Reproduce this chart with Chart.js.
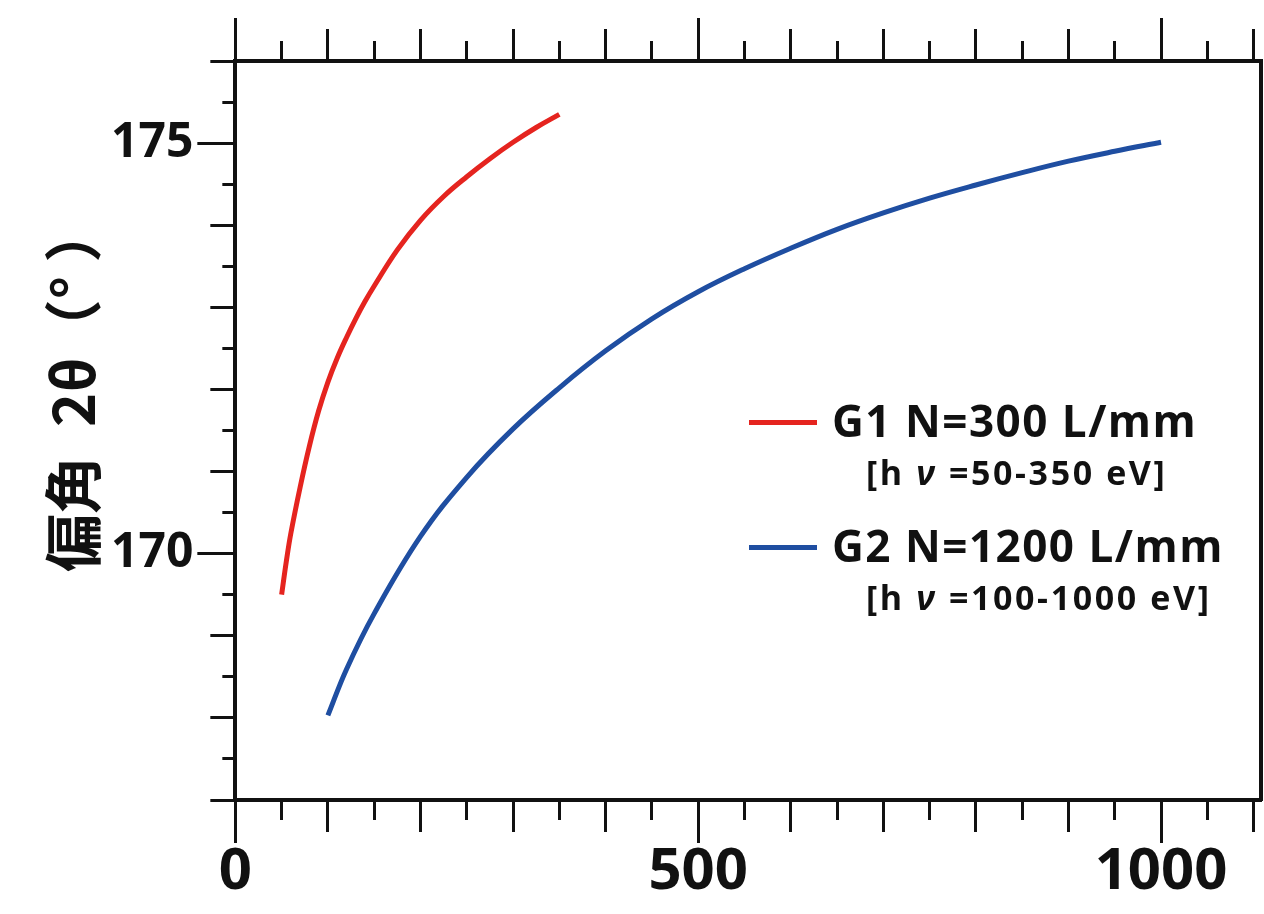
<!DOCTYPE html>
<html>
<head>
<meta charset="utf-8">
<script src="https://cdn.jsdelivr.net/npm/chart.js@4.4.0/dist/chart.umd.min.js"></script>
<style>
html,body{margin:0;padding:0;background:#fff;}
#wrap{position:relative;width:1264px;height:914px;}
.leg{position:absolute;font-family:'Open Sans',sans-serif;font-weight:700;line-height:1;white-space:pre;color:#111;}
.swatch{position:absolute;height:5px;width:68px;left:749px;}
</style>
</head>
<body>
<div id="wrap">
  <canvas id="chart"></canvas>
  <div id="legend"></div>
</div>
<script>
// data
const g1Energy = [50, 55, 60, 70, 80, 90, 100, 110, 120, 130, 140, 150, 175, 200, 225, 250, 275, 300, 325, 350];
const g1Angle  = [169.50, 169.90, 170.25, 170.81, 171.31, 171.74, 172.09, 172.38, 172.63, 172.86, 173.07, 173.26, 173.70, 174.06, 174.35, 174.59, 174.81, 175.01, 175.19, 175.35];
const g2Energy = [100, 120, 150, 200, 250, 300, 350, 400, 450, 500, 550, 600, 650, 700, 750, 800, 850, 900, 950, 1000];
const g2Angle  = [168.03, 168.59, 169.27, 170.21, 170.93, 171.52, 172.02, 172.47, 172.86, 173.19, 173.47, 173.72, 173.95, 174.15, 174.33, 174.49, 174.64, 174.78, 174.90, 175.01];
const seriesNames  = ['G1 N=300 L/mm', 'G2 N=1200 L/mm'];
const seriesRanges = ['[h ν =50-350 eV]', '[h ν =100-1000 eV]'];
const seriesColors = ['#e5241f', '#1f4ea1'];
const xLabelTicks = [0, 500, 1000];
const yLabelTicks = [170, 175];
const yTitle = '\u3000  偏角\u20022θ（° ）';

const black = '#111';
const near = (a, b) => Math.abs(a - b) < 1e-6;

// tick mark lengths: major / medium / short
function xLen(v){
  if(xLabelTicks.some(m => near(m, v))) return 41;
  return near(v % 100, 0) ? 30 : 18;
}
function yLen(v){
  if(yLabelTicks.some(m => near(m, v))) return 36;
  return near(v % 1, 0) ? 23 : 11;
}
const tv = c => c.tick ? c.tick.value : 0;

Chart.defaults.font.family = "'Open Sans', sans-serif";
Chart.defaults.color = black;

const ctx = document.getElementById('chart').getContext('2d');
new Chart(ctx, {
  type: 'line',
  data: {
    datasets: [
      {
        label: seriesNames[0],
        data: g1Energy.map((x, i) => ({x: x, y: g1Angle[i]})),
        borderColor: seriesColors[0],
        borderWidth: 5,
        pointRadius: 0,
        tension: 0.4
      },
      {
        label: seriesNames[1],
        data: g2Energy.map((x, i) => ({x: x, y: g2Angle[i]})),
        borderColor: seriesColors[1],
        borderWidth: 5,
        pointRadius: 0,
        tension: 0.4
      }
    ]
  },
  options: {
    responsive: true,
    maintainAspectRatio: false,
    animation: false,
    events: [],
    layout: { padding: { left: 40, right: 3, top: 18, bottom: 13 } },
    plugins: { legend: { display: false }, tooltip: { enabled: false } },
    scales: {
      x: {
        type: 'linear', position: 'bottom', min: 0, max: 1108,
        ticks: {
          stepSize: 50, includeBounds: false, autoSkip: false, maxRotation: 0, padding: 0,
          font: { size: 58, weight: 'bold', lineHeight: 1 },
          callback: v => xLabelTicks.some(m => near(m, v)) ? String(v) : ''
        },
        grid: {
          drawOnChartArea: false, tickLength: 43, tickWidth: 3, tickColor: black,
          tickBorderDash: c => [xLen(tv(c)), 200]
        },
        border: { color: black, width: 4 }
      },
      x2: {
        type: 'linear', position: 'top', min: 0, max: 1108,
        ticks: { display: false, stepSize: 50, includeBounds: false, autoSkip: false },
        grid: {
          drawOnChartArea: false, tickLength: 43, tickWidth: 3, tickColor: black,
          tickBorderDash: c => [0, 41 - xLen(tv(c)), xLen(tv(c)), 200]
        },
        border: { color: black, width: 4 }
      },
      y: {
        type: 'linear', position: 'left', min: 167, max: 176,
        ticks: {
          stepSize: 0.5, includeBounds: false, autoSkip: false, padding: 4,
          font: { size: 48, weight: 'bold', lineHeight: 1 },
          callback: v => yLabelTicks.some(m => near(m, v)) ? String(v) : ''
        },
        grid: {
          drawOnChartArea: false, tickLength: 38, tickWidth: 3, tickColor: black,
          tickBorderDash: c => [0, 36 - yLen(tv(c)), yLen(tv(c)), 200]
        },
        border: { color: black, width: 4 },
        title: {
          display: true, text: yTitle, color: black,
          font: { family: "'Noto Sans CJK JP', sans-serif", size: 58, weight: 'bold', lineHeight: 1 },
          padding: { top: 4, bottom: 5 }
        }
      },
      y2: {
        type: 'linear', position: 'right', min: 167, max: 176,
        ticks: { display: false },
        grid: { drawOnChartArea: false, drawTicks: false },
        border: { color: black, width: 4 }
      }
    }
  }
});

// legend drawn as html text over the plot
const legend = document.getElementById('legend');
const rowTop = [398, 523];
seriesNames.forEach((name, i) => {
  const sw = document.createElement('div');
  sw.className = 'swatch';
  sw.style.top = (rowTop[i] + 22) + 'px';
  sw.style.background = seriesColors[i];
  legend.appendChild(sw);

  const t = document.createElement('div');
  t.className = 'leg';
  t.style.left = '832px';
  t.style.top = rowTop[i] + 'px';
  t.style.fontSize = '44px';
  t.style.letterSpacing = '1.5px';
  t.textContent = name;
  legend.appendChild(t);

  const r = document.createElement('div');
  r.className = 'leg';
  r.style.left = '866px';
  r.style.top = (rowTop[i] + 57) + 'px';
  r.style.fontSize = '34px';
  r.style.letterSpacing = '2.6px';
  r.innerHTML = seriesRanges[i].replace('ν', '<i>ν</i>');
  legend.appendChild(r);
});
</script>
</body>
</html>
